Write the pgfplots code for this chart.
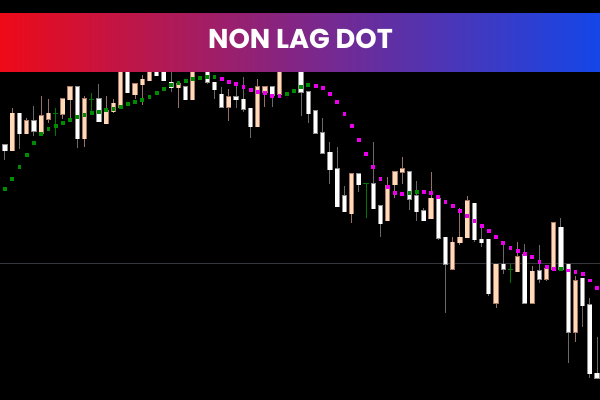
\documentclass[border=0pt]{standalone}
\usepackage{pgfplots}
\pgfplotsset{compat=1.18}
\usepackage{pgfplotstable}
\usepackage{fontspec}
\newfontfamily\titlefont{Poppins}
\definecolor{peach}{RGB}{255,218,185}
\definecolor{peachline}{RGB}{170,120,105}
\definecolor{peachwick}{RGB}{150,112,104}
\definecolor{whiteline}{RGB}{140,140,140}
\definecolor{whitewick}{RGB}{105,105,105}
\definecolor{dotgreen}{RGB}{0,140,0}
\definecolor{dojigreen}{RGB}{0,120,0}
\definecolor{dotmag}{RGB}{235,0,235}
\definecolor{hline}{RGB}{52,56,60}
\definecolor{bannerL}{RGB}{238,10,24}
\definecolor{bannerM}{RGB}{128,38,135}
\definecolor{bannerR}{RGB}{20,70,232}

% white (bearish) candles: x, body top, body bottom, wick top, wick bottom (pixel rows)
\pgfplotstableread{
x top bot wt wb
-2.2 131.7 145 131.7 145
5 145 150.7 145 160
19.4 113.3 134 113.3 149.3
33.9 120.7 131.3 106 136
77.2 86.7 139 86.7 148.3
98.9 99 121.7 84.5 121.7
127.7 60 92.7 60 92.7
156.6 60 75.7 60 75.7
163.8 60 80.7 60 80.7
171.1 82.3 87.7 60 91.7
185.5 86.7 100 86.7 100
207.2 60 82.5 60 84.5
214.4 82.3 90 82.3 99.5
221.6 94.2 107.3 86.7 107.3
236.0 96.7 100 84 108.3
243.3 99.3 109.3 77 111.7
250.5 108.3 126.7 108.3 138
272.1 87 95.3 87 106.7
301.0 60 92.3 60 116
308.2 92 114 92 123.3
315.5 111 133.3 111 133.3
322.7 132.7 153.3 118.3 153.3
329.9 152.3 170 141.7 184.3
337.1 169 206.7 147.3 206.7
344.3 195.7 211.7 186 211.7
358.8 174 185 174 191.7
373.2 184 209 141.7 209
380.4 205.7 224 205.7 237.3
409.3 171.7 199.3 171.7 210.5
416.5 195.7 211.7 181 221
423.8 210.7 221 208.3 221
438.2 198.3 238.3 198.3 240
445.4 237.3 264.5 237.3 312.7
474.3 203.3 240 203.3 241.7
481.5 239.3 242.7 226 246.7
488.7 239.3 293.7 239.3 296
503.2 264.3 269.5 243 274.3
524.8 254.3 303.3 244.5 303.3
539.3 271 279.2 245 283.3
560.9 227.3 269.3 218.3 269.3
568.2 264.3 332.5 264.3 363.3
582.6 278.3 305.8 278.3 327.3
589.8 305 373.7 298.3 378.3
597.0 373.3 378.3 336.7 378.3
}\whitec

% peach (bullish) candles
\pgfplotstableread{
x top bot wt wb
12.2 113.3 150.7 108.3 150.7
26.7 120.7 134 118 134
41.1 115.7 134 96 134
48.3 113.3 119.3 99.3 123.3
62.8 99 114.3 99 119.3
70.0 86.7 100 86.7 120
84.4 99 139 96 147.3
106.1 111 124 96 124
113.3 103.3 111.7 99.3 113.3
120.5 60 107.3 60 107.3
135.0 84 95 84 99.3
142.2 79.3 85 75 105
149.4 60 80.7 60 80.7
178.3 84 87.7 84 108.3
192.7 60 100 60 100
228.8 96.7 107.3 89.3 121
257.7 87 126.7 79.5 126.7
264.9 87 92.7 87 106.7
279.4 60 95 60 95
351.6 174 214 174 223.3
387.7 186 221 176.7 221
394.9 171.7 185 171.7 198.3
402.1 169 172.5 156.7 184
431.0 198.3 218.7 171.7 218.7
452.6 242.3 269.3 237.3 269.3
459.9 237.3 242.7 208.3 245
467.1 200.7 237.7 196 237.7
496.0 264.3 303.3 264.3 307.7
517.6 256.7 271.7 241.7 271.7
532.1 271.5 303.3 266 303.3
546.5 269 279.2 269 280.7
553.7 222.7 269.3 222.7 269.3
575.4 280.7 332.5 276 341.7
}\peachc

% doji candles (green)
\pgfplotstableread{
x lev wt wb
55.5 113.3 108.3 136
91.6 99.3 93.3 113.3
366.0 184 184 218
510.4 269.3 264 283.3
}\dojic

% green dots
\pgfplotstableread{
x y
5 189.3
12.2 179.3
19.4 167.3
26.7 154.7
33.9 142.7
41.1 134.3
48.3 129.3
55.5 126
62.8 123.3
70.0 120
77.2 117.3
84.4 114.7
91.6 112.7
98.9 111.7
106.1 110
113.3 109
120.5 106.7
127.7 104
135.0 101.7
142.2 100
149.4 96.7
156.6 92.7
163.8 89
171.1 85.3
178.3 82.7
185.5 80.7
192.7 79.3
199.9 78.3
207.2 77.3
214.4 76.7
286.6 94.3
293.8 90.8
301.0 87.3
308.2 85.3
409.3 193.3
416.5 191.7
560.9 269
}\greend

% magenta dots
\pgfplotstableread{
x y
221.6 78.7
228.8 82
236.0 84.3
243.3 87.3
250.5 90.3
257.7 91.7
264.9 93.3
272.1 95.7
279.4 96.3
315.5 86
322.7 88.3
329.9 93.7
337.1 102.3
344.3 113.7
351.6 126.3
358.8 140.3
366.0 154
373.2 167
380.4 178.7
387.7 187.3
394.9 192.7
402.1 194.3
423.8 192.3
431.0 192.7
438.2 196.7
445.4 201.7
452.6 206.3
459.9 211
467.1 215.7
474.3 221
481.5 225.7
488.7 231.3
496.0 237.3
503.2 243
510.4 248.3
517.6 250.7
524.8 254.3
532.1 257.3
539.3 262.3
546.5 266.7
553.7 269
568.2 270.5
575.4 271.7
582.6 274.3
589.8 280.5
597.0 288
}\magd

\begin{document}
\begin{tikzpicture}
\begin{axis}[
  scale only axis, width=300pt, height=200pt,
  xmin=0, xmax=600, ymin=0, ymax=400, y dir=reverse,
  axis line style={draw=none}, ticks=none,
  axis background/.style={fill=black},
  clip=true,
  candle/.style={draw=none, mark=none, error bars/.cd, y dir=plus, y explicit, error mark=none},
]
% horizontal level line
\addplot[hline, line width=0.5pt] coordinates {(0,264) (600,264)};
% wicks
\addplot[candle, error bar style={line width=0.5pt, draw=whitewick}]
  table[x=x, y=wt, y error expr=\thisrow{wb}-\thisrow{wt}] {\whitec};
\addplot[candle, error bar style={line width=0.5pt, draw=peachwick}]
  table[x=x, y=wt, y error expr=\thisrow{wb}-\thisrow{wt}] {\peachc};
% bodies: outline then fill
\addplot[candle, error bar style={line width=2.6pt, draw=whiteline}]
  table[x=x, y expr=\thisrow{top}-0.5, y error expr=\thisrow{bot}-\thisrow{top}+1] {\whitec};
\addplot[candle, error bar style={line width=1.7pt, draw=white}]
  table[x=x, y=top, y error expr=\thisrow{bot}-\thisrow{top}] {\whitec};
\addplot[candle, error bar style={line width=2.6pt, draw=peachline}]
  table[x=x, y expr=\thisrow{top}-0.5, y error expr=\thisrow{bot}-\thisrow{top}+1] {\peachc};
\addplot[candle, error bar style={line width=1.7pt, draw=peach}]
  table[x=x, y=top, y error expr=\thisrow{bot}-\thisrow{top}] {\peachc};
% doji
\addplot[candle, error bar style={line width=0.5pt, draw=dojigreen}]
  table[x=x, y=wt, y error expr=\thisrow{wb}-\thisrow{wt}] {\dojic};
\addplot[only marks, mark=-, mark size=1.3pt, mark options={line width=0.5pt, draw=dojigreen}]
  table[x=x, y=lev] {\dojic};
% dots
\addplot[only marks, mark=square*, mark size=0.7pt, color=dotgreen] table[x=x, y=y] {\greend};
\addplot[only marks, mark=square*, mark size=0.7pt, color=dotmag] table[x=x, y=y] {\magd};
% banner
\shade[left color=bannerL, right color=bannerR, middle color=bannerM]
  (axis cs:0,13.5) rectangle (axis cs:600,71.5);
\fill[black] (axis cs:0,0) rectangle (axis cs:600,13.5);
\node[anchor=base, text=white, inner sep=0pt, font=\titlefont\bfseries\fontsize{13.6}{15}\selectfont]
  at (axis cs:300.5,49) {NON LAG DOT};
\end{axis}
\end{tikzpicture}
\end{document}
